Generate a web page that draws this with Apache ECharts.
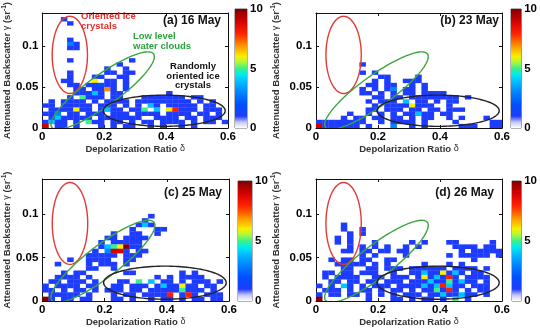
<!DOCTYPE html>
<html><head><meta charset="utf-8">
<script src="https://cdn.jsdelivr.net/npm/echarts@6/dist/echarts.min.js"></script>
<style>html,body{margin:0;padding:0;background:#fff}#c{width:540px;height:328px}</style>
</head><body><div id="c"></div>
<script>
// ---- data ----
const xBinWidth = 0.02;      // depolarization ratio bin
const yBinHeight = 0.005;    // backscatter bin
const xTicks = [0, 0.2, 0.4, 0.6];
const yTicks = [0, 0.05, 0.1];
const xMax = 0.6, yMax = 0.14;
const cbTicks = [0, 5, 10];
const panelTitles = ['(a) 16 May', '(b) 23 May', '(c) 25 May', '(d) 26 May'];

// counts per bin; each string = one backscatter row (top row first), each char = one ratio column ('.'=0, X=10)
const countsA = [
"..............................",
"...1..........................",
"....1.........................",
"..............................",
"..............................",
"..............................",
"....1.........................",
"....31........................",
"....11........................",
"..............................",
"..............................",
"....1.........1...............",
"............1.................",
"..........1..1................",
"....1.....11.11...............",
"....1...11..11................",
"...11...6.11.1................",
"....11.11211.1................",
".....11.1171.1................",
".....11141.11.......1.........",
"....1.5111.11...1111111.11....",
".1.1111.1.1111.111111111.1.1..",
"11.11111.111.1.1.41.11111.11..",
".1111611.1411.115.4.68111.111.",
"113.11.111.111.1111.1111.11.1.",
".1411111.1111111..1111.11.111.",
"1411.1.511.11.1.11.1111.1.11.1",
"9.11.1...1.1.11..1.1..1.1....."
];
const countsB = [
"..............................",
"..............................",
"..............................",
"..............................",
"..............................",
"..............................",
"..............................",
"..............................",
"..............................",
"..............................",
"..............................",
"..............................",
".......1......................",
"..............................",
".......1.1....................",
"..........11....1.............",
".........1.1..111.............",
"........11.11..1.1............",
".......1.1.13.11.1............",
".......11.1.1.11.1111.........",
".........11.11.11111111.1.....",
"........1.111.4.11.1.11.......",
".........1.11116111..1........",
"........11.111.11.11.111......",
".....1..1.1.1.11411.11........",
"....1.11.11.11.1.11..1.1...1..",
"11111111..1.1111.1....1.....11",
"9111111.1...3..1.1.....111..11"
];
const countsC = [
"..............................",
"..............................",
"..............................",
"..............................",
"..............................",
"..............................",
"..............................",
"..............................",
".................1............",
"................1.............",
"...............141............",
"..............1...11..........",
"...........1..11..1...........",
"..........11.1111.............",
".........1.11111..............",
".........1456X11..............",
"........1.3991.11.............",
".......11111.111..............",
"....1..1111..11...............",
"..1....1.111.1................",
".......11..1..................",
"...1.11......11.......1.1.....",
"..1111.1..........1.1.1111....",
".11.111.1...11.5.4.11.1.111.1.",
"1.1111.11..11.111.1411611.11..",
"11.1.11.1.111.11.111115111.1..",
".11111.1...1.11.11118.181.111.",
"X1.11.11...11.1..1.11.1.11.11."
];
const countsD = [
"..............................",
"..............................",
"..............................",
"..............................",
"..............................",
"..............................",
"..............................",
"..............................",
"..............................",
"..............................",
"....1.........................",
"....1..1......................",
".....1.1......................",
"...1.1........................",
"...1.1...1.....1.1...11.....1.",
".....1.1.1.1..1.1.....1111.11.",
"....11.11.11.11........1.11111",
".......1.1....1......1.11111.1",
"..1.11.11..11............1....",
"...11111.1.1.....1...1.1......",
"....11..11.111.111111.1111.1..",
".11.11.111..1..114116141.11...",
".1.1111..11.111.1614181.1111..",
"..11.11.11.111.11141151411.1..",
"1.1.41.1.111.11114148411.111..",
".111.1.11.1.11.1.115181.1.11..",
"1.11.11.1.1.1.111.11411411.1..",
"X.......1...11.1.11.1.5.1....."
];
const panelCounts = [countsA, countsB, countsC, countsD];

// annotation ellipses in data units: [centerX, centerY, axis1X, axis1Y, axis2X, axis2Y]
const ellipseOriented = [0.089, 0.089, 0.057, 0, 0, 0.047];
const ellipseWater = [0.195, 0.0455, 0.1644, 0.0447, 0.0300, -0.0150];
const ellipseRandom = [0.394, 0.021, 0.197, 0, 0, 0.019];
const ellipseColors = ['#e23a36', '#3aa63e', '#222222'];

// colour map (value -> colour)
const cmapValues = [0, 0.5, 1, 2, 3, 4, 4.5, 5, 5.5, 6, 6.8, 7.5, 8, 9, 10];
const cmapColors = ['#ffffff','#c4c4ff','#1e3cff','#0050ff','#0084ff','#00c4ff','#00ecec','#3cf08c','#a8f83c','#f8f000','#ffa000','#ff5000','#ff1e00','#d20000','#800000'];

// ---- helpers ----
function hexToRgb(h){return [parseInt(h.slice(1,3),16),parseInt(h.slice(3,5),16),parseInt(h.slice(5,7),16)];}
function cmap(v){
  for (let i=1;i<cmapValues.length;i++){
    if (v<=cmapValues[i]){
      const t=(v-cmapValues[i-1])/(cmapValues[i]-cmapValues[i-1]);
      const a=hexToRgb(cmapColors[i-1]), b=hexToRgb(cmapColors[i]);
      return 'rgb('+a.map((x,k)=>Math.round(x+(b[k]-x)*t)).join(',')+')';
    }
  }
  return cmapColors[cmapColors.length-1];
}
function cellsFromRows(rows){
  const out=[];
  rows.forEach((s,k)=>{
    const row = rows.length-1-k;
    for (let c=0;c<Math.min(s.length,30);c++){
      const ch=s[c];
      if (ch==='.') continue;
      const v = ch==='X'?10:Number(ch);
      out.push([c*xBinWidth, row*yBinHeight, v]);
    }
  });
  return out;
}

const FONT = '"Liberation Sans", Arial, Helvetica, sans-serif';
const layout = [
  {plot:{left:40,top:7,width:188,height:121}, cb:{left:235,top:9,width:12,height:119}, nameGap:28, title:[221,21]},
  {plot:{left:316,top:7,width:186,height:121}, cb:{left:511,top:9,width:14,height:119}, nameGap:34, title:[499,21]},
  {plot:{left:36,top:179,width:193,height:122}, cb:{left:238,top:181,width:14,height:120}, nameGap:24, title:[222,193]},
  {plot:{left:316,top:179,width:186,height:122}, cb:{left:512,top:181,width:13,height:120}, nameGap:34, title:[494,193]}
];

const grid=[], xAxis=[], yAxis=[], series=[], graphic=[];
const lineStyle = {color:'#111', width:1};
const tickLbl = {fontFamily:FONT, fontWeight:'bold', fontSize:11.5, color:'#000'};

layout.forEach((L,i)=>{
  grid.push(Object.assign({containLabel:false}, L.plot));
  grid.push(Object.assign({containLabel:false, show:true, borderColor:'#666', borderWidth:1}, L.cb));
  const gm=2*i, gc=2*i+1;
  xAxis.push({type:'value', gridIndex:gm, min:0, max:xMax, interval:0.2, position:'bottom',
    axisLine:{show:true, onZero:false, lineStyle}, axisTick:{show:true, inside:true, length:3, customValues:xTicks, lineStyle},
    axisLabel:{customValues:xTicks, margin:3, ...tickLbl}, splitLine:{show:false},
    name:'Depolarization Ratio {d|δ}', nameLocation:'middle', nameGap:15,
    nameTextStyle:{fontFamily:FONT, fontWeight:'bold', fontSize:9.5, color:'#333',
      rich:{d:{fontFamily:FONT, fontWeight:'normal', fontSize:9, color:'#333'}}}});
  xAxis.push({type:'value', gridIndex:gm, min:0, max:xMax, interval:0.2, position:'top',
    axisLine:{show:true, onZero:false, lineStyle}, axisTick:{show:true, inside:true, length:3, customValues:xTicks, lineStyle},
    axisLabel:{show:false}, splitLine:{show:false}});
  xAxis.push({type:'value', gridIndex:gc, min:0, max:1, show:false});
  yAxis.push({type:'value', gridIndex:gm, min:0, max:yMax, interval:0.05, position:'left',
    axisLine:{show:true, onZero:false, lineStyle}, axisTick:{show:true, inside:true, length:3, customValues:yTicks, lineStyle},
    axisLabel:{customValues:yTicks, margin:4, ...tickLbl}, splitLine:{show:false},
    name:'Attenuated Backscatter {g|γ} (sr{s|-1})', nameLocation:'middle', nameGap:L.nameGap,
    nameTextStyle:{fontFamily:FONT, fontWeight:'bold', fontSize:9.5, color:'#333',
      rich:{g:{fontFamily:FONT, fontWeight:'normal', fontSize:9, color:'#333'},
            s:{fontFamily:FONT, fontWeight:'bold', fontSize:6.5, color:'#333', verticalAlign:'top', padding:[0,0,5,0]}}}});
  yAxis.push({type:'value', gridIndex:gm, min:0, max:yMax, interval:0.05, position:'right',
    axisLine:{show:true, onZero:false, lineStyle}, axisTick:{show:true, inside:true, length:3, customValues:yTicks, lineStyle},
    axisLabel:{show:false}, splitLine:{show:false}});
  yAxis.push({type:'value', gridIndex:gc, min:0, max:10, interval:5, position:'right',
    axisLine:{show:false}, axisTick:{show:false}, splitLine:{show:false},
    axisLabel:{customValues:cbTicks, margin:3, ...tickLbl}});

  const xi=3*i, yi=3*i;
  series.push({type:'custom', xAxisIndex:xi, yAxisIndex:yi, clip:true, silent:true,
    data: cellsFromRows(panelCounts[i]), encode:{x:0, y:1},
    renderItem:(params, api)=>{
      const x0=api.value(0), y0=api.value(1), v=api.value(2);
      const p0=api.coord([x0,y0]), p1=api.coord([x0+xBinWidth, y0+yBinHeight]);
      return {type:'rect', shape:{x:p0[0], y:p1[1], width:p1[0]-p0[0]+0.3, height:p0[1]-p1[1]+0.3},
        style:{fill:cmap(v)}};
    }});
  series.push({type:'custom', xAxisIndex:xi, yAxisIndex:yi, clip:true, silent:true,
    data:[ellipseOriented, ellipseWater, ellipseRandom], encode:{x:0, y:1},
    renderItem:(params, api)=>{
      const e=[0,1,2,3,4,5].map(k=>api.value(k));
      const pts=[];
      for (let k=0;k<=120;k++){
        const t=k/120*2*Math.PI;
        pts.push(api.coord([e[0]+e[2]*Math.cos(t)+e[4]*Math.sin(t), e[1]+e[3]*Math.cos(t)+e[5]*Math.sin(t)]));
      }
      return {type:'polyline', shape:{points:pts}, style:{stroke:ellipseColors[params.dataIndex], lineWidth:1.4, fill:null}};
    }});
  series.push({type:'custom', xAxisIndex:3*i+2, yAxisIndex:3*i+2, silent:true,
    data:[[0, cbTicks[0], 1, cbTicks[2]]], encode:{x:0, y:1},
    renderItem:(params, api)=>{
      const p0=api.coord([api.value(0), api.value(1)]), p1=api.coord([api.value(2), api.value(3)]);
      const stops=cmapValues.map((v,k)=>({offset:v/cbTicks[2], color:cmapColors[k]}));
      return {type:'rect', shape:{x:p0[0], y:p1[1], width:p1[0]-p0[0], height:p0[1]-p1[1]},
        style:{fill:{type:'linear', x:0, y:1, x2:0, y2:0, colorStops:stops}}};
    }});
  graphic.push({type:'text', x:L.title[0], y:L.title[1], z:100,
    style:{text:panelTitles[i], font:'bold 12px '+FONT, fill:'#111', align:'right', verticalAlign:'middle'}});
});

graphic.push({type:'text', x:81, y:11, z:100, style:{text:'Oriented ice\ncrystals', font:'bold 9.5px '+FONT, fill:'#e2302c', lineHeight:10}});
graphic.push({type:'text', x:133, y:31, z:100, style:{text:'Low level\nwater clouds', font:'bold 9.5px '+FONT, fill:'#2aa23a', lineHeight:10}});
graphic.push({type:'text', x:193, y:62, z:100, style:{text:'Randomly\noriented ice\ncrystals', font:'bold 9.5px '+FONT, fill:'#111', align:'center', lineHeight:9.5}});

const chart = echarts.init(document.getElementById('c'));
chart.setOption({animation:false, backgroundColor:'#fff', grid, xAxis, yAxis, series, graphic});
</script>
</body></html>
